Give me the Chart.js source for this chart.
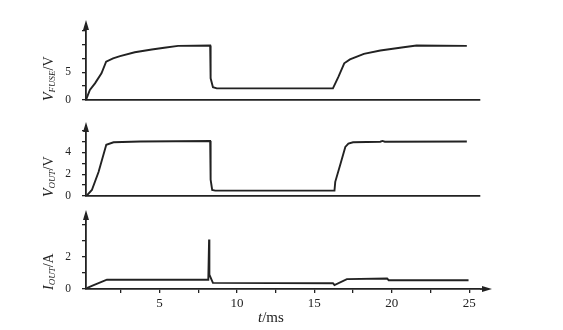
<!DOCTYPE html>
<html>
<head>
<meta charset="utf-8">
<script src="https://cdn.jsdelivr.net/npm/chart.js@4.4.0/dist/chart.umd.min.js"></script>
<style>
  html, body { margin: 0; padding: 0; background: #fff; }
  #wrap { position: relative; width: 563px; height: 330px; }
  #wrap canvas { position: absolute; left: 0; top: 0; }
</style>
</head>
<body>
<div id="wrap">
  <canvas id="fuseChart" width="563" height="330"></canvas>
  <canvas id="outChart" width="563" height="330"></canvas>
  <canvas id="curChart" width="563" height="330"></canvas>
</div>
<script>
// time axis (ms)
const timeTicks = [2.5, 5, 7.5, 10, 12.5, 15, 17.5, 20, 22.5, 25];
const timeTickLabels = [5, 10, 15, 20, 25];

// V_FUSE (V)
const fuseTime = [0.25, 0.5, 0.83, 1.25, 1.55, 2.0, 2.45, 3.4, 4.5, 5.3, 6.2, 8.27, 8.3, 8.45, 8.7, 16.2, 16.56, 16.93, 17.3, 18.2, 19.26, 20.76, 21.6, 24.85];
const fuseVolt = [0, 1.8, 3.0, 4.8, 6.9, 7.5, 7.9, 8.6, 9.1, 9.4, 9.75, 9.8, 3.9, 2.3, 2.1, 2.1, 4.2, 6.6, 7.3, 8.3, 8.9, 9.5, 9.8, 9.75];
const fuseTicks = [0, 2.5, 5, 7.5, 10, 12.5];
const fuseTickLabels = [0, 5];

// V_OUT (V)
const outTime = [0.27, 0.63, 1.06, 1.28, 1.56, 2.03, 3.75, 8.27, 8.3, 8.4, 8.6, 16.3, 16.35, 16.7, 17.0, 17.2, 17.5, 19.26, 19.4, 19.55, 24.85];
const outVolt = [0, 0.55, 2.2, 3.3, 4.7, 4.93, 5.0, 5.05, 1.5, 0.55, 0.49, 0.49, 1.3, 3.0, 4.5, 4.8, 4.93, 4.98, 5.05, 4.98, 5.0];
const outTicks = [0, 1, 2, 3, 4, 5, 6];
const outTickLabels = [0, 2, 4];

// I_OUT (A)
const curTime = [0.3, 0.63, 1.6, 8.15, 8.2, 8.22, 8.35, 8.45, 16.2, 16.3, 17.1, 19.7, 19.8, 24.96];
const curAmp = [0.06, 0.19, 0.58, 0.58, 3.1, 0.9, 0.6, 0.38, 0.36, 0.25, 0.62, 0.66, 0.55, 0.55];
const curTicks = [0, 1, 2, 3, 4];
const curTickLabels = [0, 2];

const INK = '#222';
const SERIF = '"Liberation Serif", "DejaVu Serif", serif';

const panelDecor = {
    id: 'panelDecor',
    afterDraw(chart, args, opts) {
        const { ctx, chartArea } = chart;
        const left = chartArea.left, top = chartArea.top, bottom = chartArea.bottom;
        ctx.save();
        ctx.strokeStyle = INK;
        ctx.fillStyle = INK;
        ctx.lineWidth = 1.8;

        // y arrow
        ctx.beginPath();
        ctx.moveTo(left, top);
        ctx.lineTo(left, top - 2);
        ctx.stroke();
        ctx.beginPath();
        ctx.moveTo(left, top - 5);
        ctx.lineTo(left - 3, top + 5);
        ctx.lineTo(left + 3, top + 5);
        ctx.closePath();
        ctx.fill();

        // x arrow
        if (opts.xArrow) {
            const right = chartArea.right;
            ctx.beginPath();
            ctx.moveTo(right, bottom);
            ctx.lineTo(right + 6, bottom);
            ctx.stroke();
            ctx.beginPath();
            ctx.moveTo(right + 12, bottom);
            ctx.lineTo(right + 2, bottom - 3);
            ctx.lineTo(right + 2, bottom + 3);
            ctx.closePath();
            ctx.fill();
        }

        // y title with subscript
        ctx.translate(49, bottom + 1);
        ctx.rotate(-Math.PI / 2);
        ctx.textBaseline = 'middle';
        ctx.textAlign = 'left';
        let u = 0;
        ctx.font = 'italic 14px ' + SERIF;
        ctx.fillText(opts.main, u, 0);
        u += ctx.measureText(opts.main).width;
        ctx.font = 'italic 9px ' + SERIF;
        ctx.fillText(opts.sub, u, 3.5);
        u += ctx.measureText(opts.sub).width;
        ctx.font = '14px ' + SERIF;
        ctx.fillText(opts.unit, u, 0);
        ctx.restore();

        // x title
        if (opts.xTitle) {
            ctx.save();
            ctx.fillStyle = INK;
            ctx.textBaseline = 'middle';
            ctx.textAlign = 'left';
            let x = 258;
            ctx.font = 'italic 15px ' + SERIF;
            ctx.fillText('t', x, 318);
            x += ctx.measureText('t').width;
            ctx.font = '15px ' + SERIF;
            ctx.fillText('/ms', x, 318);
            ctx.restore();
        }
    }
};

function makePanel(id, times, values, yMax, yTicks, yLabels, pad, decor, showX) {
    const points = times.map((t, i) => ({ x: t, y: values[i] }));
    return new Chart(document.getElementById(id), {
        type: 'line',
        data: {
            datasets: [{
                data: points,
                borderColor: INK,
                borderWidth: 1.9,
                pointRadius: 0,
                tension: 0,
                fill: false
            }]
        },
        options: {
            responsive: false,
            animation: false,
            events: [],
            layout: { padding: pad },
            plugins: {
                legend: { display: false },
                tooltip: { enabled: false },
                panelDecor: decor
            },
            scales: {
                x: {
                    type: 'linear',
                    min: 0.25,
                    max: 25.7,
                    afterBuildTicks: (scale) => { scale.ticks = timeTicks.map(v => ({ value: v })); },
                    afterFit: (scale) => { scale.height = showX ? 30 : 0; },
                    border: { display: true, color: INK, width: 1.8 },
                    grid: { display: showX, drawOnChartArea: false, tickLength: 4, color: INK, lineWidth: 1.3 },
                    ticks: {
                        display: showX,
                        autoSkip: false,
                        maxRotation: 0,
                        padding: 3,
                        color: INK,
                        font: { family: SERIF, size: 13 },
                        callback: (v) => timeTickLabels.includes(v) ? String(v) : ''
                    }
                },
                y: {
                    min: 0,
                    max: yMax,
                    afterBuildTicks: (scale) => { scale.ticks = yTicks.map(v => ({ value: v })); },
                    afterFit: (scale) => { scale.width = 86; },
                    border: { display: true, color: INK, width: 1.8 },
                    grid: { display: true, drawOnChartArea: false, tickLength: 4, color: INK, lineWidth: 1.3 },
                    ticks: {
                        autoSkip: false,
                        padding: 11,
                        color: INK,
                        font: { family: SERIF, size: 11.5 },
                        callback: (v) => yLabels.includes(v) ? String(v) : ''
                    }
                }
            }
        },
        plugins: [panelDecor]
    });
}

makePanel('fuseChart', fuseTime, fuseVolt, 13.5, fuseTicks, fuseTickLabels,
    { left: 0, right: 83, top: 25, bottom: 230 },
    { main: 'V', sub: 'FUSE', unit: '/V' }, false);

makePanel('outChart', outTime, outVolt, 6.33, outTicks, outTickLabels,
    { left: 0, right: 83, top: 127, bottom: 134 },
    { main: 'V', sub: 'OUT', unit: '/V' }, false);

makePanel('curChart', curTime, curAmp, 4.625, curTicks, curTickLabels,
    { left: 0, right: 83, top: 215, bottom: 11 },
    { main: 'I', sub: 'OUT', unit: '/A', xArrow: true, xTitle: true }, true);
</script>
</body>
</html>
